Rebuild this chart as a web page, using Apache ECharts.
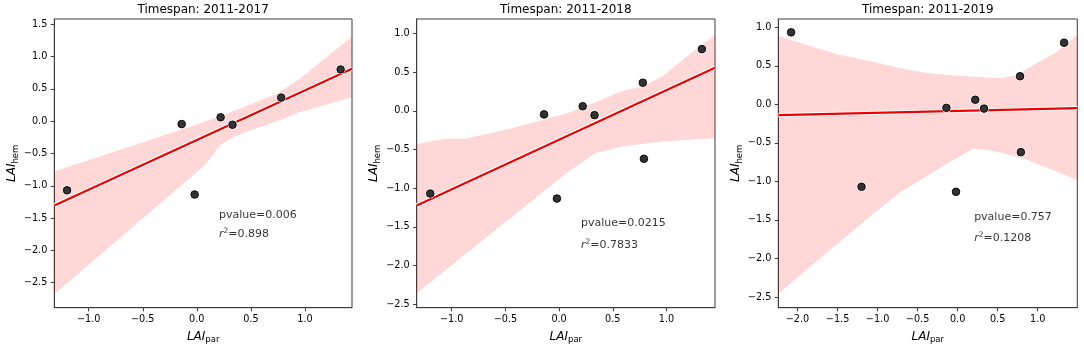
<!DOCTYPE html>
<html>
<head>
<meta charset="utf-8">
<script src="https://cdn.jsdelivr.net/npm/echarts@6/dist/echarts.min.js"></script>
<style>html,body{margin:0;padding:0;background:#fff}#c{width:1084px;height:350px}</style>
</head>
<body>
<div id="c"></div>
<script>
// ---------- data ----------
const titles = ['Timespan: 2011-2017', 'Timespan: 2011-2018', 'Timespan: 2011-2019'];

// scatter points
const ptsX1 = [-1.20, -0.02, -0.14, 0.22, 0.33, 0.78, 1.33];
const ptsY1 = [-1.07, -1.135, -0.045, 0.06, -0.055, 0.365, 0.80];
const ptsX2 = [-1.20, -0.02, -0.14, 0.22, 0.33, 0.78, 1.33, 0.79];
const ptsY2 = [-1.07, -1.135, -0.045, 0.06, -0.055, 0.365, 0.80, -0.62];
const ptsX3 = [-1.20, -0.02, -0.14, 0.22, 0.33, 0.78, 1.33, 0.79, -2.08];
const ptsY3 = [-1.07, -1.135, -0.045, 0.06, -0.055, 0.365, 0.80, -0.62, 0.935];

// regression lines (end points)
const fitX1 = [-1.318, 1.435];
const fitY1 = [-1.305, 0.81];
const fitX2 = [-1.326, 1.452];
const fitY2 = [-1.224, 0.56];
const fitX3 = [-2.24, 1.495];
const fitY3 = [-0.139, -0.05];

// confidence bands
const upX1 = [-1.318, 0.075, 0.491, 0.738, 0.953, 1.435];
const upY1 = [-0.78, -0.01, 0.254, 0.424, 0.656, 1.31];
const loX1 = [-1.318, 0.075, 0.213, 0.336, 0.491, 0.738, 0.953, 1.435];
const loY1 = [-2.68, -0.68, -0.376, -0.248, -0.144, -0.005, 0.139, 0.372];

const upX2 = [-1.326, -1.06, -0.873, -0.439, 0.074, 0.337, 0.586, 0.772, 0.958, 1.207, 1.452];
const upY2 = [-0.43, -0.362, -0.362, -0.224, -0.03, 0.112, 0.258, 0.314, 0.443, 0.724, 0.982];
const loX2 = [-1.326, 0.074, 0.337, 0.586, 0.958, 1.452];
const loY2 = [-2.36, -0.80, -0.547, -0.461, -0.397, -0.353];

const upX3 = [-2.24, -1.884, -1.466, -1.05, -0.716, -0.363, -0.009, 0.534, 0.741, 0.95, 1.241, 1.495];
const upY3 = [0.892, 0.771, 0.641, 0.554, 0.468, 0.403, 0.372, 0.338, 0.381, 0.511, 0.684, 0.9];
const loX3 = [-2.24, -1.675, -1.175, -0.716, -0.363, -0.091, 0.2, 0.409, 0.825, 1.241, 1.495];
const loY3 = [-2.458, -1.96, -1.527, -1.137, -0.919, -0.746, -0.572, -0.594, -0.702, -0.876, -0.984];

// annotations
const pvalueText = ['pvalue=0.006', 'pvalue=0.0215', 'pvalue=0.757'];
const r2Text = ['0.898', '0.7833', '0.1208'];
const annX = [0.2, 0.2, 0.2];
const pvalY = [-1.45, -1.45, -1.46];
const r2Y = [-1.75, -1.74, -1.74];

// axis ranges and tick labels
const xRange1 = [-1.318, 1.435], yRange1 = [-2.887, 1.582];
const xRange2 = [-1.326, 1.452], yRange2 = [-2.548, 1.19];
const xRange3 = [-2.24, 1.495], yRange3 = [-2.639, 1.108];
const xTicks1 = [-1.0, -0.5, 0.0, 0.5, 1.0];
const yTicks1 = [-2.5, -2.0, -1.5, -1.0, -0.5, 0.0, 0.5, 1.0, 1.5];
const xTicks2 = [-1.0, -0.5, 0.0, 0.5, 1.0];
const yTicks2 = [-2.5, -2.0, -1.5, -1.0, -0.5, 0.0, 0.5, 1.0];
const xTicks3 = [-2.0, -1.5, -1.0, -0.5, 0.0, 0.5, 1.0];
const yTicks3 = [-2.5, -2.0, -1.5, -1.0, -0.5, 0.0, 0.5, 1.0];

// ---------- chart ----------
const FONT = 'DejaVu Sans';
const TXT = '#000';
const panels = [
  {pts:[ptsX1,ptsY1], fit:[fitX1,fitY1], up:[upX1,upY1], lo:[loX1,loY1], xr:xRange1, yr:yRange1, xt:xTicks1, yt:yTicks1},
  {pts:[ptsX2,ptsY2], fit:[fitX2,fitY2], up:[upX2,upY2], lo:[loX2,loY2], xr:xRange2, yr:yRange2, xt:xTicks2, yt:yTicks2},
  {pts:[ptsX3,ptsY3], fit:[fitX3,fitY3], up:[upX3,upY3], lo:[loX3,loY3], xr:xRange3, yr:yRange3, xt:xTicks3, yt:yTicks3}
];
const gridPos = [
  {left: 54.3, top: 19, width: 297.7, height: 288.7},
  {left: 416.7, top: 19, width: 298.3, height: 288.7},
  {left: 778.3, top: 19, width: 299, height: 288.7}
];
const fmt = v => (v < 0 ? '\u2212' : '') + Math.abs(v).toFixed(1);
const zip = (a, b) => a.map((x, i) => [x, b[i]]);

const grids = [], xAxes = [], yAxes = [], series = [], graphics = [];
panels.forEach((p, k) => {
  const g = gridPos[k];
  grids.push(Object.assign({show: true, borderColor: '#3a3a3a', borderWidth: 1, backgroundColor: 'transparent', containLabel: false}, g));
  const axisCommon = {
    type: 'value', gridIndex: k,
    axisLine: {show: true, onZero: false, lineStyle: {color: '#3a3a3a', width: 1}},
    axisTick: {show: true, length: 3.5, lineStyle: {color: '#3a3a3a', width: 1}},
    splitLine: {show: false},
    nameLocation: 'middle'
  };
  xAxes.push(Object.assign({}, axisCommon, {
    min: p.xr[0], max: p.xr[1],
    axisTick: Object.assign({}, axisCommon.axisTick, {customValues: p.xt}),
    axisLabel: {customValues: p.xt, formatter: fmt, margin: 7, fontSize: 9.7, fontFamily: FONT, color: TXT},
    name: '{i|LAI}{s|par}', nameGap: 21,
    nameTextStyle: {rich: {
      i: {fontSize: 12, fontStyle: 'italic', fontFamily: FONT, color: TXT, lineHeight: 16},
      s: {fontSize: 8.5, fontFamily: FONT, color: TXT, lineHeight: 10, verticalAlign: 'bottom'}
    }}
  }));
  yAxes.push(Object.assign({}, axisCommon, {
    min: p.yr[0], max: p.yr[1],
    axisTick: Object.assign({}, axisCommon.axisTick, {customValues: p.yt}),
    axisLabel: {customValues: p.yt, formatter: fmt, margin: 7, fontSize: 9.7, fontFamily: FONT, color: TXT},
    name: '{i|LAI}{s|hem}', nameGap: 34, nameRotate: 90,
    nameTextStyle: {rich: {
      i: {fontSize: 12, fontStyle: 'italic', fontFamily: FONT, color: TXT, lineHeight: 16},
      s: {fontSize: 8.5, fontFamily: FONT, color: TXT, lineHeight: 10, verticalAlign: 'bottom'}
    }}
  }));

  // confidence band
  const up = zip(p.up[0], p.up[1]);
  const lo = zip(p.lo[0], p.lo[1]);
  series.push({
    type: 'custom', xAxisIndex: k, yAxisIndex: k, z: 1, clip: true, silent: true,
    data: [up[0]],
    renderItem: (params, api) => {
      const pts = up.map(d => api.coord(d)).concat(lo.slice().reverse().map(d => api.coord(d)));
      return {type: 'polygon', shape: {points: pts}, style: {fill: 'rgba(255,0,0,0.155)', stroke: null}};
    }
  });
  // regression line: white halo + red line
  const fit = zip(p.fit[0], p.fit[1]);
  series.push({type: 'line', xAxisIndex: k, yAxisIndex: k, z: 2, data: fit, showSymbol: false, symbol: 'none', silent: true,
    lineStyle: {color: '#ffffff', width: 4.2}});
  series.push({type: 'line', xAxisIndex: k, yAxisIndex: k, z: 3, data: fit, showSymbol: false, symbol: 'none', silent: true,
    lineStyle: {color: '#f00000', width: 2.2}});
  // points: white ring + dark dot
  const pts = zip(p.pts[0], p.pts[1]);
  series.push({type: 'scatter', xAxisIndex: k, yAxisIndex: k, z: 4, data: pts, symbolSize: 9.6, silent: true,
    itemStyle: {color: '#ffffff', opacity: 1}});
  series.push({type: 'scatter', xAxisIndex: k, yAxisIndex: k, z: 5, data: pts, symbolSize: 7.6, silent: true,
    itemStyle: {color: 'rgba(0,0,0,0.8)', borderColor: '#000', borderWidth: 0.9, opacity: 1}});
  // annotations
  series.push({type: 'scatter', xAxisIndex: k, yAxisIndex: k, z: 6, silent: true, symbolSize: 1,
    itemStyle: {color: 'rgba(0,0,0,0)'},
    data: [[annX[k], pvalY[k], 'p'], [annX[k], r2Y[k], 'r']],
    label: {show: true, position: 'right', distance: 0,
      formatter: prm => prm.value[2] === 'p' ? '{t|' + pvalueText[k] + '}' : '{i|r}{u|2}{t|=' + r2Text[k] + '}',
      rich: {
        t: {fontSize: 11, fontFamily: FONT, color: TXT, lineHeight: 15},
        i: {fontSize: 11, fontStyle: 'italic', fontFamily: FONT, color: TXT, lineHeight: 15},
        u: {fontSize: 7.5, fontFamily: FONT, color: TXT, lineHeight: 9, verticalAlign: 'top'}
      }
    }
  });
  // title
  graphics.push({type: 'text', x: g.left + g.width / 2, y: 9.5, silent: true,
    style: {text: titles[k], fontSize: 12, fontFamily: FONT, fill: TXT, textAlign: 'center', textVerticalAlign: 'middle'}});
});

const chart = echarts.init(document.getElementById('c'), null, {renderer: 'canvas'});
chart.setOption({
  animation: false,
  backgroundColor: '#ffffff',
  grid: grids, xAxis: xAxes, yAxis: yAxes, series: series, graphic: graphics
});
</script>
</body>
</html>
